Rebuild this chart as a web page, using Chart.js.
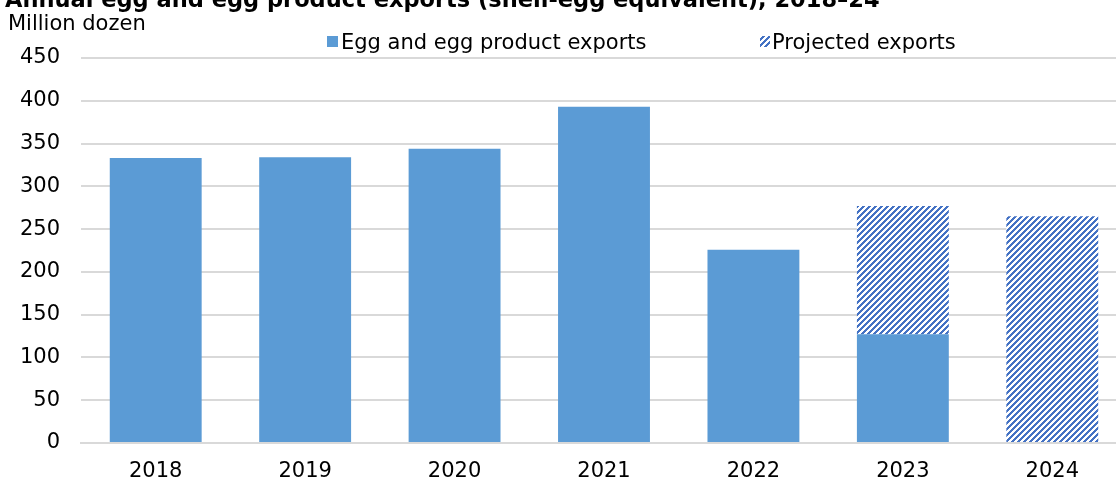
<!DOCTYPE html>
<html>
<head>
<meta charset="utf-8">
<script src="https://cdn.jsdelivr.net/npm/chart.js@4/dist/chart.umd.min.js"></script>
<style>
  html, body { margin: 0; padding: 0; background: #fff; overflow: hidden; }
  #wrap { width: 1116px; height: 480px; overflow: hidden; position: relative; }
  #box { width: 1127px; height: 480px; position: absolute; left: 0; top: 0; }
</style>
</head>
<body>
<div id="wrap"><div id="box"><canvas id="eggChart"></canvas></div></div>
<script>
const years = ["2018", "2019", "2020", "2021", "2022", "2023", "2024"];
const actualExports = [333, 334, 344, 393, 226, 127, null];
const projectedExports = [null, null, null, null, null, 150, 265];
const yTicks = [0, 50, 100, 150, 200, 250, 300, 350, 400, 450];

const titleText = "Annual egg and egg product exports (shell-egg equivalent), 2018\u201324";
const unitText = "Million dozen";
const legendNames = ["Egg and egg product exports", "Projected exports"];

const solidBlue = "#5b9bd5";
const hatchBlue = "#4472c4";
const fontFamily = "'DejaVu Sans', sans-serif";

// diagonal "/" hatch like Excel's wide upward diagonal
function makeHatch() {
  const n = 6;
  const c = document.createElement("canvas");
  c.width = n; c.height = n;
  const g = c.getContext("2d");
  g.fillStyle = "#ffffff";
  g.fillRect(0, 0, n, n);
  g.fillStyle = hatchBlue;
  for (let x = 0; x < n; x++) {
    for (let y = 0; y < n; y++) {
      if ((x + y) % n < 3) g.fillRect(x, y, 1, 1);
    }
  }
  return g.createPattern(c, "repeat");
}

const ctx = document.getElementById("eggChart").getContext("2d");
const hatch = makeHatch();

const textPlugin = {
  id: "textPlugin",
  afterDraw(chart) {
    const c = chart.ctx;
    c.save();
    c.fillStyle = "#000";
    c.textBaseline = "alphabetic";
    c.textAlign = "left";
    c.font = "bold 22.5px " + fontFamily;
    c.fillText(titleText, 5, 7);
    c.font = "21px " + fontFamily;
    c.fillText(unitText, 8, 30);
    // legend
    c.fillStyle = solidBlue;
    c.fillRect(327, 36, 11, 11);
    c.fillStyle = "#000";
    c.fillText(legendNames[0], 341, 49);
    c.fillStyle = hatch;
    c.fillRect(760, 36, 10, 11);
    c.fillStyle = "#000";
    c.fillText(legendNames[1], 772, 49);
    c.restore();
  }
};

new Chart(ctx, {
  type: "bar",
  data: {
    labels: years,
    datasets: [
      {
        label: legendNames[0],
        data: actualExports,
        backgroundColor: solidBlue,
        borderWidth: 0,
        categoryPercentage: 1,
        barPercentage: 0.615
      },
      {
        label: legendNames[1],
        data: projectedExports,
        backgroundColor: hatch,
        borderWidth: 0,
        categoryPercentage: 1,
        barPercentage: 0.615
      }
    ]
  },
  options: {
    responsive: true,
    maintainAspectRatio: false,
    animation: false,
    layout: { padding: { top: 58, left: 0, right: 0, bottom: 0 } },
    plugins: {
      legend: { display: false },
      title: { display: false },
      tooltip: { enabled: false }
    },
    scales: {
      x: {
        stacked: true,
        grid: { display: false, drawTicks: false },
        border: { display: true, color: "#d9d9d9", width: 2 },
        ticks: {
          color: "#000",
          font: { family: fontFamily, size: 21 },
          padding: 16
        },
        afterFit(scale) { scale.height = 37; }
      },
      y: {
        stacked: true,
        min: 0,
        max: 450,
        afterBuildTicks(scale) { scale.ticks = yTicks.map(v => ({ value: v })); },
        grid: { color: "#d9d9d9", lineWidth: 2, drawTicks: false },
        border: { display: false },
        ticks: {
          color: "#000",
          font: { family: fontFamily, size: 21 },
          padding: 21
        },
        afterFit(scale) { scale.width = 81; }
      }
    }
  },
  plugins: [textPlugin]
});
</script>
</body>
</html>
